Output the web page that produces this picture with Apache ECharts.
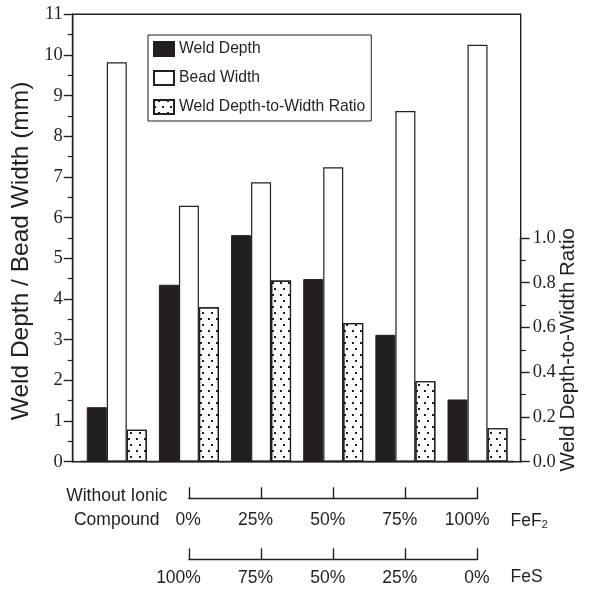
<!DOCTYPE html>
<html>
<head>
<meta charset="utf-8">
<script src="https://cdn.jsdelivr.net/npm/echarts@6/dist/echarts.min.js"></script>
<style>
    html, body { margin: 0; padding: 0; background: #fff; }
    #chart { width: 590px; height: 590px; }
</style>
</head>
<body>
<div id="chart"></div>
<script>
// groups: no ionic compound, then FeF2 share 0..100% (rest is FeS)
const categories = ['Without Ionic\nCompound', '0%', '25%', '50%', '75%', '100%'];
const weldDepth = [1.34, 4.35, 5.57, 4.49, 3.12, 1.53];
const beadWidth = [9.82, 6.29, 6.87, 7.24, 8.62, 10.25];
const depthToWidth = [0.143, 0.69, 0.81, 0.62, 0.36, 0.15];
const fef2Labels = ['0%', '25%', '50%', '75%', '100%'];
const fesLabels = ['100%', '75%', '50%', '25%', '0%'];

const INK = '#231f20';
const SANS = "'Liberation Sans', Arial, sans-serif";
const SERIF = "'Liberation Serif', 'Times New Roman', serif";

const chart = echarts.init(document.getElementById('chart'));

// bracket under the bars, one for each compound
function bracketAxis(gridIndex, labels, name, labelMargin, namePad) {
    return {
        gridIndex: gridIndex, type: 'value', min: 0, max: 100, interval: 25,
        axisLine: { show: true, onZero: false, lineStyle: { color: INK, width: 1.4 } },
        axisTick: { show: true, inside: true, length: 11, lineStyle: { color: INK, width: 1.4 } },
        splitLine: { show: false },
        axisLabel: {
            formatter: v => labels[Math.round(v / 25)],
            align: 'right', padding: [0, -12, 0, 0], margin: labelMargin,
            fontFamily: SANS, fontSize: 17.5, color: INK
        },
        name: name, nameLocation: 'end', nameGap: 33, nameMoveOverlap: false,
        nameTextStyle: {
            fontFamily: SANS, fontSize: 17.5, color: INK,
            verticalAlign: 'top', padding: [namePad, 0, 0, 0],
            rich: {
                a: { fontFamily: SANS, fontSize: 17.5, color: INK },
                b: { fontFamily: SANS, fontSize: 11.5, color: INK, padding: [9, 0, 0, 0] }
            }
        }
    };
}

const option = {
    animation: false,
    legend: {
        orient: 'vertical', left: 148, top: 35,
        padding: [6, 6, 6, 5],
        itemWidth: 20, itemHeight: 14, itemGap: 13,
        borderColor: INK, borderWidth: 1,
        icon: 'rect',
        textStyle: { fontFamily: SANS, fontSize: 15.7, color: INK, lineHeight: 14 }
    },
    grid: [
        { left: 80.7, right: 76.4, top: 14.3, bottom: 128.3, outerBoundsMode: 'none' },   // bars
        { left: 72.7, right: 69.3, top: 14.3, bottom: 128.3, outerBoundsMode: 'none', show: true,
          borderColor: INK, borderWidth: 1.4, backgroundColor: 'transparent' }, // frame
        { left: 72.7, right: 69.3, top: 238, bottom: 128.3, outerBoundsMode: 'none' },     // ratio scale 0-1
        { left: 188.9, right: 112.5, top: 497.3, height: 1, outerBoundsMode: 'none' },
        { left: 188.9, right: 112.5, top: 558.3, height: 1, outerBoundsMode: 'none' }
    ],
    xAxis: [
        {
            gridIndex: 0, type: 'category', data: categories, z: 5,
            axisLine: { show: true, onZero: false, lineStyle: { color: INK, width: 1.4 } },
            axisTick: { show: false },
            axisLabel: {
                formatter: (v, i) => i === 0 ? v : '',
                margin: 22, lineHeight: 24,
                fontFamily: SANS, fontSize: 17.5, color: INK
            }
        },
        { gridIndex: 1, type: 'value', show: false },
        { gridIndex: 2, type: 'value', show: false },
        bracketAxis(3, fef2Labels, '{a|FeF}{b|2}', 13, 12),
        bracketAxis(4, fesLabels, 'FeS', 9.5, 8.5)
    ],
    yAxis: [
        {
            gridIndex: 0, type: 'value', min: 0, max: 11, interval: 1,
            position: 'left', offset: 8,
            axisLine: { show: true, onZero: false, lineStyle: { color: INK, width: 1.4 } },
            axisTick: { show: true, length: 9, lineStyle: { color: INK, width: 1.4 } },
            minorTick: { show: true, splitNumber: 2, length: 5, lineStyle: { color: INK, width: 1.2 } },
            splitLine: { show: false },
            axisLabel: { fontFamily: SERIF, fontSize: 18.5, color: INK, margin: 10 },
            name: 'Weld Depth / Bead Width (mm)', nameLocation: 'middle', nameGap: 39,
            nameMoveOverlap: false,
            nameTextStyle: { fontFamily: SANS, fontSize: 24.5, color: INK, padding: [0, 26, 0, 0] }
        },
        { gridIndex: 0, type: 'value', min: 0, max: 2, position: 'right', show: false },
        { gridIndex: 1, type: 'value', show: false },
        {
            gridIndex: 2, type: 'value', min: 0, max: 1, interval: 0.2, position: 'right',
            axisLine: { show: true, onZero: false, lineStyle: { color: INK, width: 1.4 } },
            axisTick: { show: true, length: 9, lineStyle: { color: INK, width: 1.4 } },
            minorTick: { show: true, splitNumber: 2, length: 5, lineStyle: { color: INK, width: 1.2 } },
            splitLine: { show: false },
            axisLabel: { formatter: v => v.toFixed(1), fontFamily: SERIF, fontSize: 18.5, color: INK, margin: 12 },
            name: 'Weld Depth-to-Width Ratio', nameLocation: 'middle', nameGap: 37,
            nameMoveOverlap: false,
            nameTextStyle: { fontFamily: SANS, fontSize: 20.5, color: INK }
        },
        { gridIndex: 3, type: 'value', show: false },
        { gridIndex: 4, type: 'value', show: false }
    ],
    series: [
        {
            name: 'Weld Depth', type: 'bar', xAxisIndex: 0, yAxisIndex: 0,
            data: weldDepth, barWidth: 20, barGap: '0%',
            itemStyle: { color: INK, borderColor: INK, borderWidth: 1 }
        },
        {
            name: 'Bead Width', type: 'bar', xAxisIndex: 0, yAxisIndex: 0,
            data: beadWidth, barWidth: 20, barGap: '0%',
            itemStyle: { color: '#fff', borderColor: INK, borderWidth: 1.2 }
        },
        {
            name: 'Weld Depth-to-Width Ratio', type: 'bar', xAxisIndex: 0, yAxisIndex: 1,
            data: depthToWidth, barWidth: 20, barGap: '0%',
            itemStyle: {
                color: '#fff', borderColor: INK, borderWidth: 1.2,
                decal: {
                    symbol: 'rect', symbolSize: 1, color: INK,
                    dashArrayX: [[1.2, 5.5], [0, 3.35, 1.2, 2.15]],
                    dashArrayY: [1.2, 3.6]
                }
            }
        }
    ]
};

chart.setOption(option);
</script>
</body>
</html>
